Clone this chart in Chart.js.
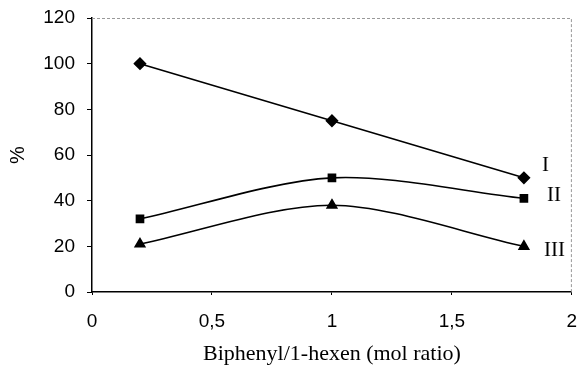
<!DOCTYPE html>
<html>
<head>
<meta charset="UTF-8">
<script src="https://cdn.jsdelivr.net/npm/chart.js"></script>
<style>
  html, body { margin: 0; padding: 0; background: #fff; }
  #wrap { width: 579px; height: 367px; }
</style>
</head>
<body>
<div id="wrap"><canvas id="c"></canvas></div>
<script>
// x-Werte (Molverhältnis)
const ratios = [0.2, 1, 1.8];
// Reihen I, II, III
const seriesI = [100, 75, 50];
const seriesII = [32, 50, 41];
const seriesIII = [21, 38, 20];
const seriesNames = ['I', 'II', 'III'];
const markers = ['rectRot', 'rect', 'triangle'];

function pts(vals) {
    return ratios.map((x, i) => ({ x: x, y: vals[i] }));
}

// Rahmen oben/rechts (gepunktet, grau) + Beschriftung I/II/III
const extras = {
    id: 'extras',
    afterDatasetsDraw(chart) {
        const { ctx, chartArea: a } = chart;
        ctx.save();
        ctx.strokeStyle = '#999';
        ctx.lineWidth = 1;
        ctx.setLineDash([3, 2]);
        ctx.beginPath();
        ctx.moveTo(a.left, a.top + 0.5);
        ctx.lineTo(a.right - 0.5, a.top + 0.5);
        ctx.lineTo(a.right - 0.5, a.bottom);
        ctx.stroke();
        ctx.setLineDash([]);
        ctx.fillStyle = '#000';
        ctx.font = '21px "Liberation Serif", serif';
        ctx.textAlign = 'left';
        ctx.textBaseline = 'middle';
        const offs = [[18, -12], [23, -3], [20, 4]];
        chart.data.datasets.forEach((ds, i) => {
            const meta = chart.getDatasetMeta(i);
            const last = meta.data[meta.data.length - 1];
            ctx.fillText(seriesNames[i], last.x + offs[i][0], last.y + offs[i][1]);
        });
        ctx.restore();
    }
};

const common = {
    borderColor: '#000',
    backgroundColor: '#000',
    borderWidth: 1.6,
    pointRadius: 5.5,
    fill: false
};

new Chart(document.getElementById('c'), {
    type: 'line',
    data: {
        datasets: [
            Object.assign({}, common, { label: 'I', data: pts(seriesI), pointStyle: markers[0], tension: 0 }),
            Object.assign({}, common, { label: 'II', data: pts(seriesII), pointStyle: markers[1], pointRadius: 5, tension: 0.3 }),
            Object.assign({}, common, { label: 'III', data: pts(seriesIII), pointStyle: markers[2], tension: 0.3 })
        ]
    },
    options: {
        responsive: true,
        maintainAspectRatio: false,
        animation: false,
        layout: { padding: { top: 18, right: 6, left: 0, bottom: 0 } },
        plugins: { legend: { display: false }, tooltip: { enabled: false } },
        scales: {
            x: {
                type: 'linear',
                min: 0, max: 2,
                ticks: {
                    stepSize: 0.5,
                    color: '#000',
                    font: { family: '"Liberation Sans", Arial, sans-serif', size: 19 },
                    padding: 15,
                    callback: v => String(v).replace('.', ',')
                },
                grid: { drawOnChartArea: false, drawTicks: true, tickLength: 3, color: '#000' },
                border: { color: '#000', width: 1.5 },
                title: {
                    display: true,
                    text: 'Biphenyl/1-hexen (mol ratio)',
                    color: '#000',
                    font: { family: '"Liberation Serif", serif', size: 22 },
                    padding: { top: 2, bottom: 0 }
                },
                afterFit(s) {
                    s.height = 75;
                    s.paddingRight = 0;
                    s.paddingLeft = 0;
                }
            },
            y: {
                min: 0, max: 120,
                ticks: {
                    stepSize: 20,
                    color: '#000',
                    font: { family: '"Liberation Sans", Arial, sans-serif', size: 19 },
                    padding: 12
                },
                grid: { drawOnChartArea: false, drawTicks: true, tickLength: 5, color: '#000' },
                border: { color: '#000', width: 1.5 },
                title: {
                    display: true,
                    text: '%',
                    color: '#000',
                    font: { family: '"Liberation Sans", Arial, sans-serif', size: 20 },
                    padding: { top: 6, bottom: 0 }
                },
                afterFit(s) {
                    s.width = 92;
                    s.paddingTop = 0;
                    s.paddingBottom = 0;
                }
            }
        }
    },
    plugins: [extras]
});
</script>
</body>
</html>
